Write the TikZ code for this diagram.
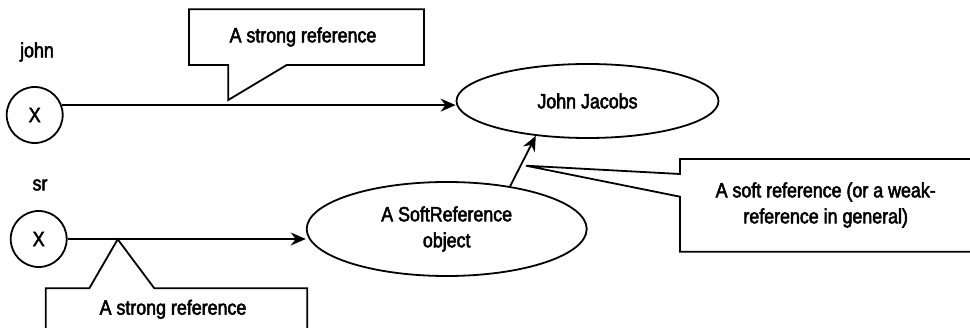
\documentclass[tikz,border=0pt]{standalone}
\usepackage{fontspec}
\setmainfont{Liberation Sans}[FakeStretch=0.87,FakeBold=2.5]
\usetikzlibrary{arrows.meta,shapes.geometric}
\begin{document}
\begin{tikzpicture}[x=1pt,y=-1pt,
  every node/.style={font=\fontsize{20.5}{26}\selectfont, inner sep=0pt},
  varcirc/.style={circle, draw, line width=1.8pt, minimum size=56pt},
  obj/.style={ellipse, draw, line width=1.8pt, align=center},
  lbl/.style={align=center},
  arr/.style={line width=1.8pt, -{Stealth[length=15pt,width=13pt]}},
  callout/.style={line width=1.8pt, line join=miter}]
\useasboundingbox (0,0) rectangle (970,328);
% variables
\node[lbl] (johnlbl) at (37,52) {john};
\node[varcirc] (jx) at (34.7,115) {X};
\node[lbl] (srlbl) at (40,185) {sr};
\node[varcirc] (sx) at (38.7,239) {X};
% objects
\node[obj, minimum width=262pt, minimum height=74pt] (jj) at (587.5,101) {John Jacobs};
\node[obj, minimum width=280pt, minimum height=94pt] (so) at (446.7,229) {A SoftReference\\object};
% connectors
\draw[arr] (jx.20) -- (jx.20 -| jj.west);
\draw[arr] (sx.east) -- (sx.east -| so.west);
\draw[arr] (so.34) -- (jj.214);
% top callout
\node[lbl] (c1) at (303,37) {A strong reference};
\draw[callout] (189,9.3) -- (424,9.3) -- (424,65) -- (286.7,65) -- (228.3,100) -- (228.3,65) -- (189,65) -- cycle;
% bottom callout
\node[lbl] (c2) at (173,309.3) {A strong reference};
\draw[callout] (45.7,335) -- (45.7,288.3) -- (89.3,288.3) -- (117.7,239.3) -- (154.3,288.3) -- (307.3,288.3) -- (307.3,335);
% right callout
\node[lbl] (c3) at (825.7,205) {A soft reference (or a weak-\\reference in general)};
\draw[callout] (980,159) -- (680,159) -- (680,174) -- (526,165.7) -- (680,196.7) -- (680,251.7) -- (980,251.7);
\end{tikzpicture}
\end{document}
